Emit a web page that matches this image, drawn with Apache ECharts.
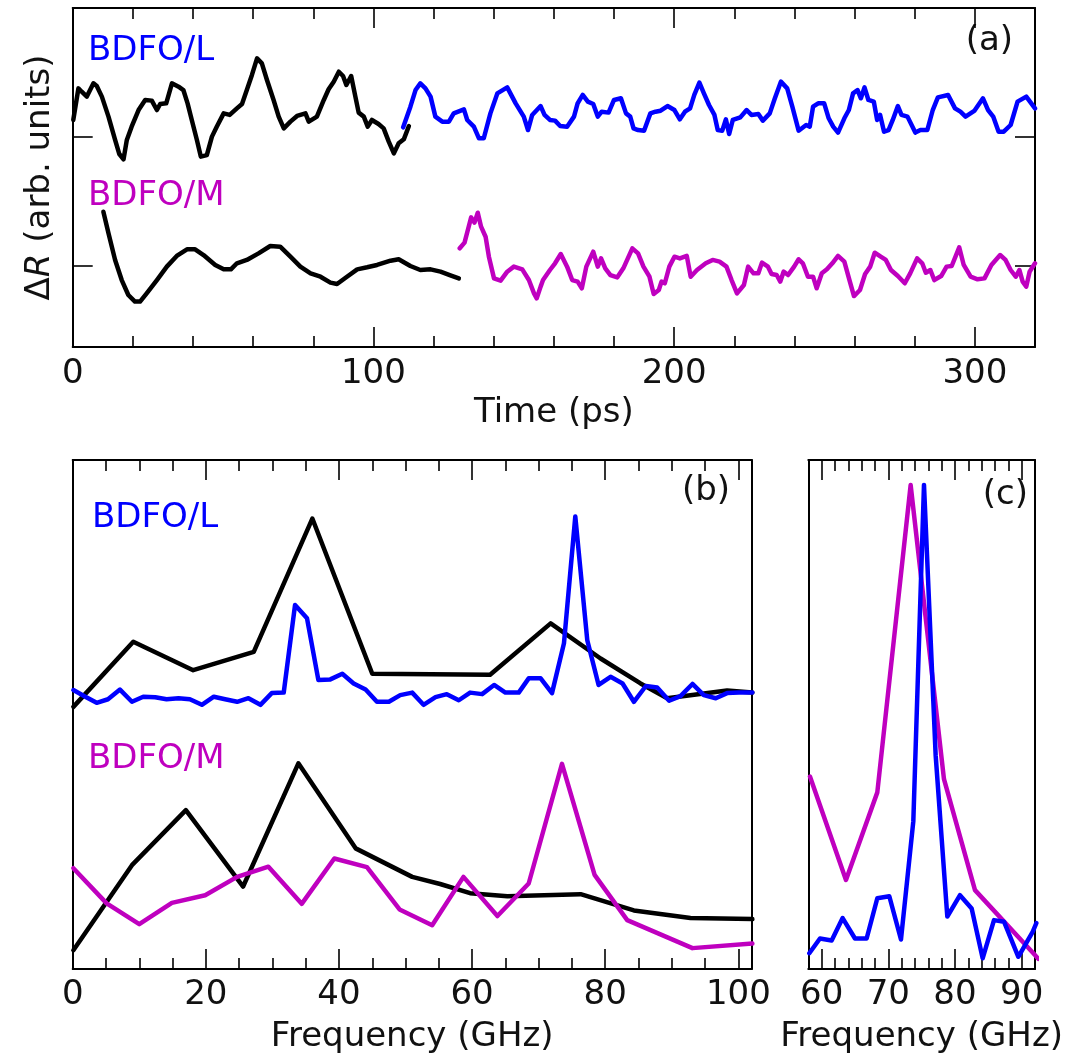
<!DOCTYPE html>
<html>
<head>
<meta charset="utf-8">
<script src="https://cdn.jsdelivr.net/npm/echarts@6/dist/echarts.min.js"></script>
<style>html,body{margin:0;padding:0;background:#fff}#c{width:1081px;height:1059px}</style>
</head>
<body>
<div id="c"></div>
<script>
// ---------- Panel (a): time traces [time ps, dR arb.] ----------
const aBlackL = [[0.2,1.132],[1.9,1.377],[3.0,1.351],[4.7,1.313],[6.9,1.416],[8.0,1.395],[9.7,1.313],[11.9,1.158],[14.1,0.977],[15.5,0.868],[16.9,0.827],[18.0,0.977],[19.6,1.080],[21.9,1.209],[24.1,1.287],[26.3,1.282],[28.0,1.209],[29.1,1.256],[31.1,1.261],[33.0,1.416],[35.2,1.390],[36.8,1.364],[38.2,1.261],[39.6,1.132],[41.3,0.977],[42.6,0.848],[44.6,0.860],[46.3,1.003],[47.9,1.080],[50.2,1.183],[52.2,1.171],[54.6,1.222],[56.3,1.256],[57.9,1.364],[59.6,1.481],[61.3,1.610],[62.9,1.571],[64.6,1.442],[66.8,1.287],[68.5,1.158],[70.2,1.067],[72.4,1.119],[74.6,1.163],[77.4,1.183],[78.5,1.119],[81.2,1.158],[83.5,1.287],[85.1,1.370],[86.8,1.429],[88.5,1.506],[89.9,1.473],[91.0,1.403],[92.6,1.473],[94.0,1.313],[95.1,1.189],[96.8,1.158],[98.1,1.080],[99.5,1.132],[101.7,1.101],[103.4,1.067],[105.1,0.964],[106.8,0.873],[108.4,0.951],[110.1,0.982],[111.8,1.085]];
const aBlueL = [[109.9,1.075],[112.3,1.235],[114.0,1.364],[115.6,1.416],[117.3,1.377],[119.0,1.313],[120.6,1.158],[122.9,1.119],[125.1,1.119],[126.7,1.183],[130.1,1.214],[131.2,1.132],[133.4,1.080],[135.1,0.990],[136.7,0.990],[138.9,1.183],[141.2,1.338],[144.5,1.385],[147.3,1.261],[150.0,1.158],[151.4,1.054],[152.8,1.171],[155.6,1.240],[156.9,1.171],[158.7,1.132],[160.4,1.127],[162.1,1.085],[164.4,1.080],[166.7,1.158],[167.9,1.261],[169.6,1.326],[171.3,1.274],[173.1,1.256],[174.6,1.158],[175.9,1.196],[178.2,1.189],[180.0,1.287],[182.3,1.300],[184.0,1.183],[185.4,1.158],[186.5,1.067],[188.0,1.054],[190.0,1.049],[192.1,1.183],[193.8,1.196],[195.5,1.204],[197.8,1.240],[200.1,1.209],[201.9,1.137],[203.6,1.196],[205.3,1.222],[206.7,1.326],[208.4,1.421],[209.9,1.338],[211.6,1.248],[213.4,1.171],[214.5,1.054],[216.0,1.049],[217.2,1.137],[218.3,1.023],[219.5,1.132],[222.0,1.152],[224.1,1.209],[225.7,1.171],[228.0,1.178],[229.5,1.127],[231.8,1.183],[233.5,1.300],[235.5,1.429],[237.6,1.377],[239.3,1.235],[241.4,1.049],[243.9,1.093],[245.1,1.080],[246.2,1.235],[247.9,1.261],[249.9,1.261],[251.4,1.145],[252.9,1.080],[254.5,1.034],[256.6,1.145],[258.1,1.209],[259.5,1.338],[261.0,1.364],[262.1,1.300],[263.3,1.385],[264.6,1.287],[266.4,1.274],[267.5,1.132],[268.5,1.171],[269.8,1.041],[271.3,1.054],[272.7,1.132],[274.4,1.240],[275.6,1.171],[277.6,1.158],[280.2,1.034],[281.9,1.054],[284.2,1.054],[286.0,1.209],[287.7,1.307],[291.1,1.326],[293.4,1.222],[295.2,1.196],[296.9,1.158],[299.8,1.202],[302.7,1.300],[304.4,1.209],[306.1,1.158],[307.9,1.041],[309.6,1.041],[311.9,1.093],[314.2,1.274],[317.1,1.313],[320.0,1.222]];
const aBlackM = [[10.2,0.421],[11.9,0.253],[14.1,0.047],[16.3,-0.109],[18.5,-0.225],[20.7,-0.276],[22.4,-0.276],[24.6,-0.212],[28.0,-0.109],[31.3,-0.005],[34.6,0.078],[38.0,0.129],[40.7,0.129],[43.5,0.085],[47.4,0.008],[50.2,-0.026],[52.6,-0.026],[54.6,0.021],[57.9,0.047],[61.8,0.098],[65.7,0.155],[69.0,0.150],[72.4,0.072],[75.7,-0.005],[79.1,-0.057],[82.4,-0.083],[85.7,-0.129],[87.9,-0.140],[91.2,-0.083],[94.6,-0.026],[97.9,-0.010],[101.2,0.008],[105.7,0.041],[108.4,0.052],[112.3,0.000],[115.6,-0.031],[119.0,-0.026],[122.3,-0.044],[125.6,-0.072],[128.4,-0.096]];
const aMagM = [[128.7,0.137],[130.3,0.181],[131.4,0.279],[132.5,0.377],[133.6,0.336],[134.7,0.413],[135.8,0.305],[137.3,0.227],[138.4,0.072],[140.1,-0.096],[142.3,-0.114],[144.5,-0.044],[146.7,-0.005],[149.5,-0.026],[151.7,-0.109],[153.4,-0.212],[154.3,-0.251],[155.6,-0.160],[156.4,-0.109],[158.7,-0.031],[160.4,0.021],[162.3,0.093],[164.4,-0.005],[166.1,-0.109],[167.9,-0.121],[169.3,-0.173],[170.8,-0.005],[173.1,0.111],[174.6,-0.005],[175.7,0.059],[177.1,-0.018],[178.8,-0.070],[181.1,-0.088],[183.1,-0.018],[184.6,0.059],[186.1,0.137],[188.0,0.098],[189.8,-0.005],[191.8,-0.083],[193.2,-0.217],[194.9,-0.186],[195.8,-0.121],[196.9,-0.134],[198.4,-0.005],[200.1,0.072],[201.9,0.059],[204.2,0.078],[205.5,-0.083],[207.6,-0.031],[210.5,0.021],[212.8,0.047],[215.1,0.034],[217.4,-0.005],[219.1,-0.109],[220.9,-0.212],[223.2,-0.147],[224.6,-0.005],[226.4,-0.057],[228.0,-0.057],[229.2,0.026],[231.2,-0.005],[232.4,-0.062],[234.1,-0.070],[235.3,-0.121],[236.4,-0.044],[237.9,-0.070],[239.9,-0.005],[241.4,0.052],[242.8,0.021],[244.5,-0.083],[246.2,-0.083],[247.4,-0.173],[249.1,-0.057],[250.8,-0.026],[252.6,0.021],[254.5,0.078],[256.6,0.034],[258.3,-0.109],[259.8,-0.233],[261.8,-0.186],[263.5,-0.062],[265.2,-0.005],[266.7,0.103],[268.7,0.072],[270.4,0.047],[272.1,-0.031],[274.4,-0.078],[276.7,-0.134],[278.5,-0.057],[280.8,0.059],[282.5,0.021],[283.7,-0.052],[285.2,-0.031],[286.5,-0.109],[288.8,-0.078],[290.6,-0.005],[292.3,0.000],[294.8,0.145],[296.3,0.008],[298.6,-0.083],[300.9,-0.103],[303.2,-0.096],[305.5,0.008],[308.4,0.085],[310.2,0.047],[311.9,-0.031],[313.6,-0.083],[314.8,-0.031],[315.9,-0.121],[317.1,-0.160],[318.2,-0.044],[320.0,0.021]];

// ---------- Panel (b): FFT [GHz, amplitude] ----------
const bBlackL = [[0.1,0.515],[9.1,0.643],[18.1,0.587],[27.2,0.623],[36.0,0.885],[45.0,0.580],[62.7,0.578],[71.8,0.679],[79.3,0.610],[85.3,0.561],[89.3,0.532],[98.3,0.547],[102.1,0.543]];
const bBlueL = [[0.1,0.548],[1.9,0.535],[3.6,0.523],[5.3,0.530],[7.1,0.549],[8.9,0.525],[10.6,0.535],[12.4,0.534],[14.1,0.530],[15.9,0.532],[17.6,0.530],[19.4,0.519],[21.2,0.535],[22.9,0.530],[24.7,0.525],[26.4,0.532],[28.2,0.519],[29.9,0.542],[31.7,0.543],[33.4,0.715],[35.2,0.689],[36.9,0.568],[38.7,0.569],[40.5,0.580],[42.2,0.561],[44.0,0.549],[45.7,0.525],[47.5,0.525],[49.2,0.538],[51.0,0.543],[52.7,0.519],[54.5,0.534],[56.2,0.540],[58.0,0.528],[59.7,0.543],[61.5,0.540],[63.3,0.558],[65.0,0.543],[67.0,0.543],[68.5,0.571],[70.3,0.571],[72.0,0.542],[73.8,0.640],[75.5,0.889],[77.3,0.646],[79.0,0.558],[80.8,0.574],[82.6,0.561],[84.3,0.525],[86.1,0.556],[87.8,0.553],[89.6,0.527],[91.3,0.536],[93.1,0.560],[94.8,0.538],[96.6,0.532],[98.3,0.542],[100.1,0.543],[102.1,0.543]];
const bBlackM = [[0.1,0.037],[8.9,0.204],[17.0,0.312],[25.6,0.162],[33.9,0.404],[42.5,0.237],[51.0,0.181],[55.2,0.167],[59.7,0.149],[65.3,0.143],[76.3,0.147],[84.3,0.115],[92.8,0.100],[102.1,0.098]];
const bMagM = [[0.1,0.198],[5.1,0.129],[10.0,0.088],[14.9,0.130],[19.9,0.145],[24.7,0.181],[29.4,0.201],[34.4,0.128],[39.3,0.217],[44.2,0.200],[49.1,0.117],[54.0,0.086],[58.7,0.181],[63.8,0.104],[68.5,0.168],[73.5,0.403],[78.4,0.185],[83.3,0.096],[93.1,0.041],[102.1,0.050]];

// ---------- Panel (c): zoomed FFT [GHz, amplitude] ----------
const cMagM = [[58.25,0.378],[63.65,0.175],[68.35,0.347],[73.35,0.951],[78.35,0.373],[83.0,0.155],[91.75,0.031],[92.5,0.020]];
const cBlueL = [[58.15,0.031],[59.75,0.060],[61.5,0.056],[63.15,0.100],[65.0,0.060],[66.75,0.060],[68.35,0.139],[70.15,0.143],[71.9,0.058],[73.75,0.290],[75.35,0.951],[77.1,0.420],[78.85,0.103],[80.75,0.145],[82.5,0.119],[84.15,0.021],[85.85,0.096],[87.35,0.093],[89.5,0.024],[91.65,0.073],[92.2,0.090]];

// ---------- Tick values ----------
const aMajor = [0, 100, 200, 300];
const aMinor = [20, 40, 60, 80, 120, 140, 160, 180, 220, 240, 260, 280, 320];
const aYTicks = [0, 1];
const bMajor = [0, 20, 40, 60, 80, 100];
const bMinor = [5, 10, 15, 25, 30, 35, 45, 50, 55, 65, 70, 75, 85, 90, 95];
const cMajor = [60, 70, 80, 90];
const cMinor = [58, 62, 64, 66, 68, 72, 74, 76, 78, 82, 84, 86, 88, 92];

const FF = '"DejaVu Sans", "Noto Sans", sans-serif';
const FS = 34;
const BLUE = '#0000ff', MAG = '#bf00bf', BLK = '#000000';

function xAxesFor(gi, min, max, major, minor, name, opts) {
  const common = {gridIndex: gi, type: 'value', min: min, max: max, splitLine: {show: false}};
  const line = {show: true, onZero: false, lineStyle: {color: BLK, width: 2}};
  const noLine = {show: false, onZero: false};
  const majTick = {show: true, inside: true, length: 20, customValues: major, lineStyle: {color: BLK, width: 1.6}};
  const minTick = {show: true, inside: true, length: 11, customValues: minor, lineStyle: {color: BLK, width: 1.6}};
  return [
    Object.assign({}, common, {position: 'bottom', axisLine: line, axisTick: majTick,
      axisLabel: {show: true, customValues: major, margin: opts.margin, color: '#111', fontSize: FS, fontFamily: FF},
      name: name, nameLocation: 'middle', nameGap: opts.nameGap,
      nameTextStyle: {color: '#111', fontSize: FS, fontFamily: FF}}),
    Object.assign({}, common, {position: 'bottom', axisLine: noLine, axisTick: minTick, axisLabel: {show: false}}),
    Object.assign({}, common, {position: 'top', axisLine: line, axisTick: majTick, axisLabel: {show: false}}),
    Object.assign({}, common, {position: 'top', axisLine: noLine, axisTick: minTick, axisLabel: {show: false}})
  ];
}

const xAxis = [].concat(
  xAxesFor(0, 0, 320, aMajor, aMinor, 'Time (ps)', {margin: 10, nameGap: 49}),
  xAxesFor(1, 0, 102, bMajor, bMinor, 'Frequency (GHz)', {margin: 9, nameGap: 51}),
  xAxesFor(2, 58, 92, cMajor, cMinor, 'Frequency (GHz)', {margin: 9, nameGap: 51})
);

const yLine = {show: true, onZero: false, lineStyle: {color: BLK, width: 2}};
const yTickA = {show: true, inside: true, length: 20, customValues: aYTicks, lineStyle: {color: BLK, width: 1.6}};
const yAxis = [
  {gridIndex: 0, type: 'value', min: -0.628, max: 2.0, position: 'left', axisLine: yLine, axisTick: yTickA,
   axisLabel: {show: false}, splitLine: {show: false},
   name: '{d|Δ}{r|R}{d| (arb. units)}', nameLocation: 'middle', nameGap: 16, nameRotate: 90,
   nameTextStyle: {color: '#111', fontSize: FS, fontFamily: FF,
     rich: {d: {fontSize: FS, fontFamily: FF, color: '#111'}, r: {fontSize: FS, fontFamily: FF, fontStyle: 'italic', color: '#111'}}}},
  {gridIndex: 0, type: 'value', min: -0.628, max: 2.0, position: 'right', axisLine: yLine, axisTick: yTickA,
   axisLabel: {show: false}, splitLine: {show: false}},
  {gridIndex: 1, type: 'value', min: 0, max: 1, position: 'left', axisLine: yLine, axisTick: {show: false}, axisLabel: {show: false}, splitLine: {show: false}},
  {gridIndex: 1, type: 'value', min: 0, max: 1, position: 'right', axisLine: yLine, axisTick: {show: false}, axisLabel: {show: false}, splitLine: {show: false}},
  {gridIndex: 2, type: 'value', min: 0, max: 1, position: 'left', axisLine: yLine, axisTick: {show: false}, axisLabel: {show: false}, splitLine: {show: false}},
  {gridIndex: 2, type: 'value', min: 0, max: 1, position: 'right', axisLine: yLine, axisTick: {show: false}, axisLabel: {show: false}, splitLine: {show: false}}
];

function ln(data, color, xi, yi) {
  return {type: 'line', data: data, xAxisIndex: xi, yAxisIndex: yi, showSymbol: false, symbol: 'none',
    lineStyle: {color: color, width: 4.5, join: 'round', cap: 'round'}, itemStyle: {color: color},
    animation: false, silent: true, clip: true};
}

function txt(s, x, y, color, align) {
  return {type: 'text', x: x, y: y, silent: true,
    style: {text: s, fill: color, font: FS + 'px ' + FF, align: align, textAlign: align, verticalAlign: 'middle', textVerticalAlign: 'middle'}};
}

const option = {
  backgroundColor: '#ffffff',
  animation: false,
  grid: [
    {left: 72.7, top: 8, width: 962.3, height: 339},
    {left: 72.7, top: 460, width: 679, height: 509},
    {left: 808.3, top: 460, width: 226.7, height: 509}
  ],
  xAxis: xAxis,
  yAxis: yAxis,
  series: [
    ln(aBlackL, BLK, 0, 0), ln(aBlueL, BLUE, 0, 0), ln(aBlackM, BLK, 0, 0), ln(aMagM, MAG, 0, 0),
    ln(bBlackL, BLK, 4, 2), ln(bBlueL, BLUE, 4, 2), ln(bBlackM, BLK, 4, 2), ln(bMagM, MAG, 4, 2),
    ln(cMagM, MAG, 8, 4), ln(cBlueL, BLUE, 8, 4)
  ],
  graphic: [
    txt('BDFO/L', 88, 51, BLUE, 'left'),
    txt('BDFO/M', 88, 196, MAG, 'left'),
    txt('(a)', 1013, 41, '#111', 'right'),
    txt('BDFO/L', 92, 518, BLUE, 'left'),
    txt('(b)', 730, 491, '#111', 'right'),
    txt('BDFO/M', 88, 759, MAG, 'left'),
    txt('(c)', 1028, 495, '#111', 'right')
  ]
};

const chart = echarts.init(document.getElementById('c'), null, {renderer: 'canvas'});
chart.setOption(option);
</script>
</body>
</html>
